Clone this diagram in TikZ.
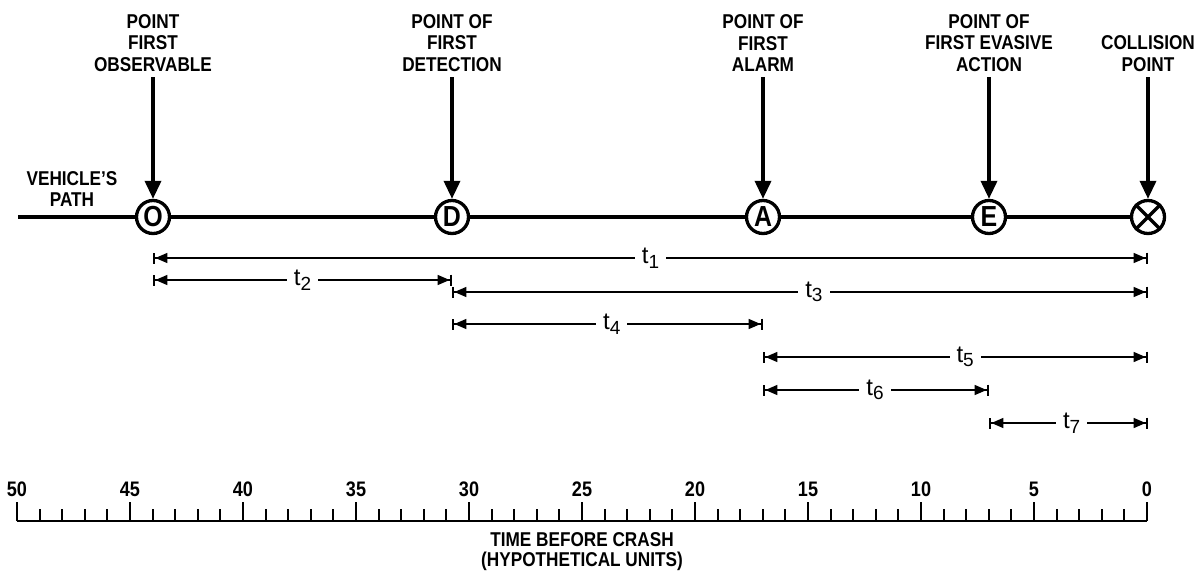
\documentclass[tikz,border=0pt]{standalone}
\usepackage{fontspec}
\setmainfont{Liberation Sans}
\newfontfamily\cond[FakeStretch=0.86]{Liberation Sans}
\usetikzlibrary{arrows.meta}
\newcommand{\tsub}[1]{t\raisebox{-4.5pt}{\fontsize{19}{19}\selectfont #1}}
\begin{document}
\begin{tikzpicture}[x=1pt,y=-1pt,
  lbl/.style={font=\cond\bfseries\fontsize{20}{21.7}\selectfont, align=center, inner sep=0pt, anchor=south},
  pnt/.style={circle, draw, line width=3.3pt, minimum size=33pt, inner sep=0pt, fill=white,
              font=\cond\bfseries\fontsize{29}{29}\selectfont},
  road/.style={line width=3.3pt},
  varrow/.style={line width=3.5pt, -{Triangle[length=18pt,width=16pt]}, shorten <=5pt},
  dim/.style={line width=1.5pt,
     {Bar[width=11pt,line width=2.4pt,sep=0pt]Triangle[length=12pt,width=10pt,sep=0pt]}-{Triangle[length=12pt,width=10pt,sep=0pt]Bar[width=11pt,line width=2.4pt,sep=0pt]}},
  tl/.style={fill=white, inner xsep=7pt, inner ysep=1pt, font=\fontsize{24}{24}\selectfont},
  num/.style={font=\cond\bfseries\fontsize{21}{21}\selectfont, inner sep=0pt, anchor=base},
]
\useasboundingbox (0,0) rectangle (1203,571);

% points on the path
\node[pnt] (O) at (153,217) {O};
\node[pnt] (D) at (452,217) {D};
\node[pnt] (A) at (763,217) {A};
\node[pnt] (E) at (989,217) {E};
\node[pnt] (X) at (1148,217) {};
\draw[line width=3.3pt] (X.45) -- (X.225) (X.135) -- (X.-45);

% vehicle's path
\coordinate (p0) at (18,217);
\draw[road] (p0) -- (O) (O) -- (D) (D) -- (A) (A) -- (E) (E) -- (X);
\node[lbl] (vp) at (72,207) {VEHICLE’S\\PATH};

% labels above
\node[lbl] (lO) at (153,72) {POINT\\FIRST\\OBSERVABLE};
\node[lbl] (lD) at (452,72) {POINT OF\\FIRST\\DETECTION};
\node[lbl] (lA) at (763,72) {POINT OF\\FIRST\\ALARM};
\node[lbl] (lE) at (989,72) {POINT OF\\FIRST EVASIVE\\ACTION};
\node[lbl] (lX) at (1148,72) {COLLISION\\POINT};
\foreach \a in {O,D,A,E,X} \draw[varrow] (l\a) -- (\a);

% time intervals
\coordinate (r1) at (0,258);
\coordinate (r2) at (0,280);
\coordinate (r3) at (0,292);
\coordinate (r4) at (0,324);
\coordinate (r5) at (0,357);
\coordinate (r6) at (0,390);
\coordinate (r7) at (0,423);
\draw[dim] (O|-r1) -- node[tl,pos=.5]{\tsub{1}} (X|-r1);
\draw[dim] (O|-r2) -- node[tl,pos=.5]{\tsub{2}} (D|-r2);
\draw[dim] (D|-r3) -- node[tl,pos=.52]{\tsub{3}} (X|-r3);
\draw[dim] (D|-r4) -- node[tl,pos=.514]{\tsub{4}} (A|-r4);
\draw[dim] (A|-r5) -- node[tl,pos=.525]{\tsub{5}} (X|-r5);
\draw[dim] (A|-r6) -- node[tl,pos=.496]{\tsub{6}} (E|-r6);
\draw[dim] (E|-r7) -- node[tl,pos=.52]{\tsub{7}} (X|-r7);

% time scale
\draw[line width=2pt] (17,521) -- (1147,521);
\foreach \i in {0,...,50}{
  \pgfmathsetmacro\xx{1147-22.6*\i}
  \pgfmathtruncatemacro\m{mod(\i,5)}
  \ifnum\m=0
    \draw[line width=2pt] (\xx,521) -- (\xx,502);
    \node[num] at (\xx,496) {\i};
  \else
    \draw[line width=2pt] (\xx,521) -- (\xx,509);
  \fi
}
\node[font=\cond\bfseries\fontsize{20}{19.5}\selectfont, align=center, inner sep=0pt, anchor=north] (ax) at (582,532.5) {TIME BEFORE CRASH\\(HYPOTHETICAL UNITS)};
\end{tikzpicture}
\end{document}
